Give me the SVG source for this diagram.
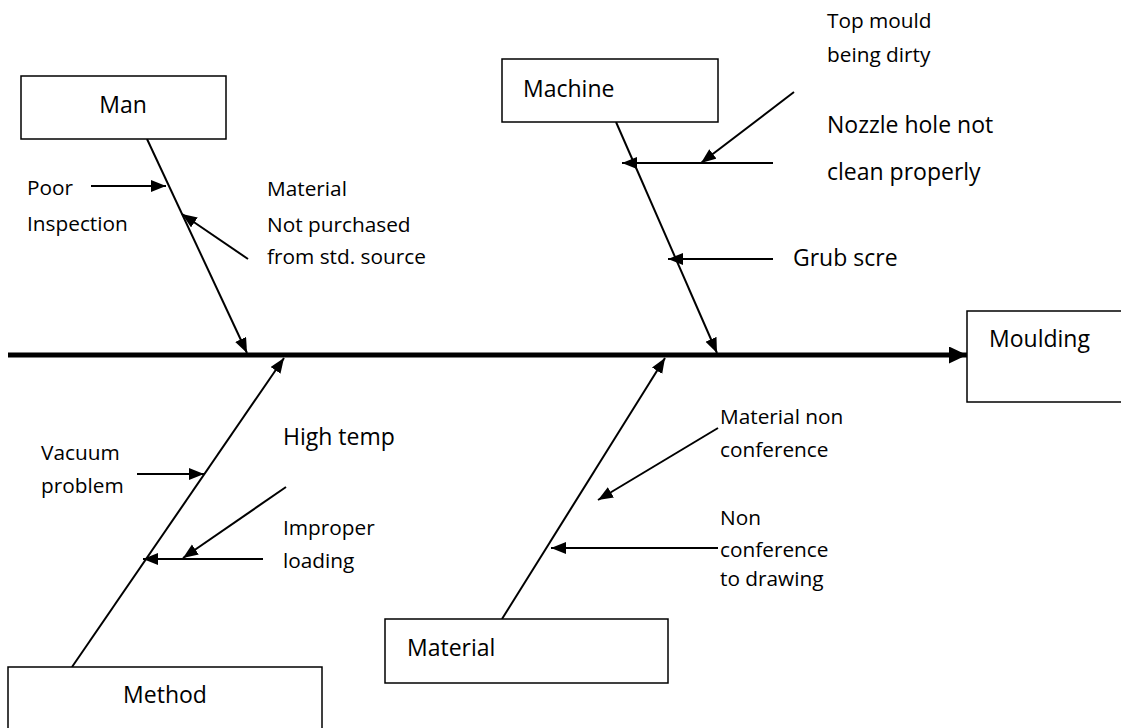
<svg xmlns="http://www.w3.org/2000/svg" width="1121" height="728" viewBox="0 0 1121 728">
<style>
.box{fill:#fff;stroke:#000;stroke-width:1.5}
.bone{fill:none;stroke:#000;stroke-width:2}
.main{fill:none;stroke:#000;stroke-width:5}
text{font-family:"Open Sans","Noto Sans",sans-serif;fill:#000}
.s{font-size:20.8px}
.l{font-size:23px}
</style>
<defs>
<marker id="ah" markerUnits="userSpaceOnUse" markerWidth="16" markerHeight="13" refX="15" refY="6" orient="auto"><path d="M0,0 L15,6 L0,12 z" fill="#000"/></marker>
<marker id="mh" markerUnits="userSpaceOnUse" markerWidth="19" markerHeight="18" refX="18" refY="8.5" orient="auto"><path d="M0,0 L18,8.5 L0,17 z" fill="#000"/></marker>
</defs>
<rect width="1121" height="728" fill="#fff"/>
<g id="connectors">
<line class="main" x1="8" y1="355" x2="967" y2="355" marker-end="url(#mh)"/>
<line class="bone" x1="147" y1="139" x2="247" y2="353" marker-end="url(#ah)"/>
<line class="bone" x1="616" y1="122" x2="717" y2="353" marker-end="url(#ah)"/>
<line class="bone" x1="72" y1="667" x2="284" y2="358" marker-end="url(#ah)"/>
<line class="bone" x1="502" y1="619" x2="665" y2="358" marker-end="url(#ah)"/>
<line class="bone" x1="91" y1="186" x2="166" y2="186" marker-end="url(#ah)"/>
<line class="bone" x1="248" y1="259" x2="182" y2="214" marker-end="url(#ah)"/>
<line class="bone" x1="773" y1="163" x2="622" y2="163" marker-end="url(#ah)"/>
<line class="bone" x1="794" y1="92" x2="701" y2="163" marker-end="url(#ah)"/>
<line class="bone" x1="773" y1="259" x2="668" y2="259" marker-end="url(#ah)"/>
<line class="bone" x1="137" y1="474" x2="204" y2="474" marker-end="url(#ah)"/>
<line class="bone" x1="263" y1="559" x2="143" y2="559" marker-end="url(#ah)"/>
<line class="bone" x1="286" y1="487" x2="183" y2="558" marker-end="url(#ah)"/>
<line class="bone" x1="718" y1="428" x2="598" y2="500" marker-end="url(#ah)"/>
<line class="bone" x1="718" y1="548" x2="551" y2="548" marker-end="url(#ah)"/>
</g>
<g id="man"><rect class="box" x="21" y="76" width="205" height="63"/><text class="l" x="123" y="113" text-anchor="middle">Man</text></g>
<g id="machine"><rect class="box" x="502" y="59" width="216" height="63"/><text class="l" x="523" y="97">Machine</text></g>
<g id="moulding"><rect class="box" x="967" y="311" width="160" height="91"/><text class="l" x="989" y="347">Moulding</text></g>
<g id="method"><rect class="box" x="8" y="667" width="314" height="75"/><text class="l" x="165" y="703" text-anchor="middle">Method</text></g>
<g id="material"><rect class="box" x="385" y="619" width="283" height="64"/><text class="l" x="407" y="656">Material</text></g>
<g id="poor-inspection"><text class="s" x="27" y="195">Poor</text><text class="s" x="27" y="231">Inspection</text></g>
<g id="material-not-purchased"><text class="s" x="267" y="196">Material</text><text class="s" x="267" y="232">Not purchased</text><text class="s" x="267" y="264">from std. source</text></g>
<g id="top-mould"><text class="s" x="827" y="28">Top mould</text><text class="s" x="827" y="62">being dirty</text></g>
<g id="nozzle"><text class="l" x="827" y="133">Nozzle hole not</text><text class="l" x="827" y="180">clean properly</text></g>
<g id="grub"><text class="l" x="793" y="266">Grub scre</text></g>
<g id="high-temp"><text class="l" x="283" y="445">High temp</text></g>
<g id="vacuum"><text class="s" x="41" y="460">Vacuum</text><text class="s" x="41" y="493">problem</text></g>
<g id="improper"><text class="s" x="283" y="535">Improper</text><text class="s" x="283" y="568">loading</text></g>
<g id="material-non"><text class="s" x="720" y="424">Material non</text><text class="s" x="720" y="457">conference</text></g>
<g id="non-conference"><text class="s" x="720" y="525">Non</text><text class="s" x="720" y="557">conference</text><text class="s" x="720" y="586">to drawing</text></g>
</svg>
